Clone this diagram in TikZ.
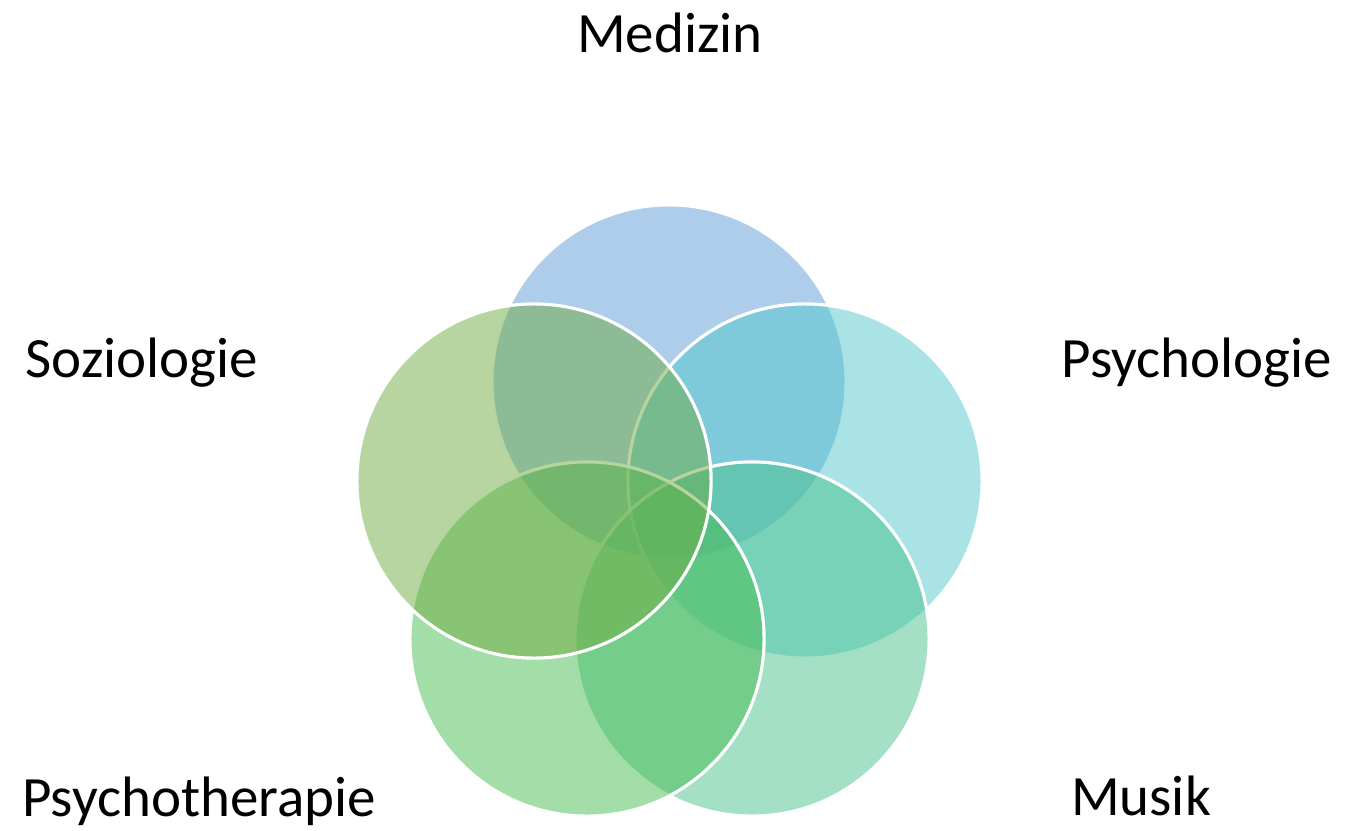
\documentclass[tikz,border=0pt]{standalone}
\usepackage{fontspec}
\setmainfont{Carlito}
\definecolor{medblue}{RGB}{91,155,213}
\definecolor{psyteal}{RGB}{83,199,203}
\definecolor{musmint}{RGB}{73,193,141}
\definecolor{thergreen}{RGB}{71,187,79}
\definecolor{sozgreen}{RGB}{111,171,67}
\begin{document}
\begin{tikzpicture}[x=0.01cm,y=-0.01cm,line join=round,
	venn/.style={draw=white,line width=0.9pt,fill opacity=.5,draw opacity=1},
	lbl/.style={anchor=base,inner sep=0pt,font=\fontsize{16.2}{19.4}\selectfont}]
		\useasboundingbox (0,0) rectangle (1345,830);
		% circles, drawn back to front
		\filldraw[venn,fill=medblue] (669,382) circle[radius=1.77cm];
		\filldraw[venn,fill=psyteal] (805,481) circle[radius=1.77cm];
		\filldraw[venn,fill=musmint] (752,639) circle[radius=1.77cm];
		\filldraw[venn,fill=thergreen] (587,639) circle[radius=1.77cm];
		\filldraw[venn,fill=sozgreen] (534,481) circle[radius=1.77cm];
		% labels
		\node[lbl] (med) at (670,52) {Medizin};
		\node[lbl] (psy) at (1197,377) {Psychologie};
		\node[lbl] (soz) at (142,377) {Soziologie};
		\node[lbl] (ther) at (199,816) {Psychotherapie};
		\node[lbl] (mus) at (1141,815) {Musik};
\end{tikzpicture}
\end{document}
